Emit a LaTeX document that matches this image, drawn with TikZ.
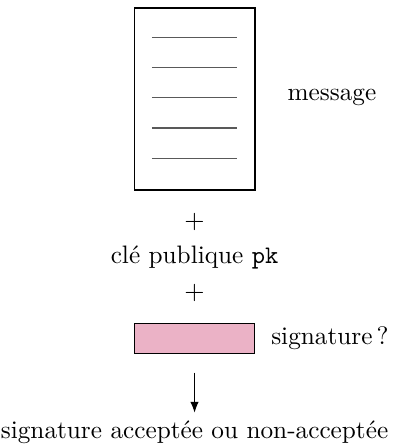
\documentclass[tikz,border=0pt]{standalone}
\usepackage{xcolor}
\usepackage{tikz}
\usetikzlibrary{positioning, arrows.meta}

\definecolor{sigpink}{RGB}{235,178,198}

\begin{document}
\begin{tikzpicture}[every node/.style={font=\fontsize{10.6}{13}\selectfont}]
    \useasboundingbox (0, 0) rectangle (5.79, 6.55);

    % the message sheet with its text lines
    \node[draw, semithick, minimum width=1.78cm, minimum height=2.68cm, inner sep=0pt] (doc) at (2.87, 5.09) {};
    \foreach \y in {6.0, 5.55, 5.11, 4.66, 4.21} {
        \draw[semithick, black!65] (2.24, \y) -- (3.50, \y);
    }
    \node[right] (msglabel) at (4.12, 5.11) {message};

    \node (plusa) at (2.87, 3.28) {$+$};
    \node (pk) at (2.87, 2.75) {clé publique \texttt{pk}};
    \node (plusb) at (2.87, 2.23) {$+$};

    % signature to be checked
    \node[draw, fill=sigpink, minimum width=1.78cm, minimum height=0.44cm, inner sep=0pt] (sig) at (2.87, 1.56) {};
    \node[right, inner sep=1pt] (siglabel) at (3.96, 1.56) {signature\,?};

    \node (result) at (2.87, 0.17) {signature acceptée ou non-acceptée};
    \draw[-{Latex[length=4.5pt, width=3.5pt]}, shorten <=0.28cm] (sig.south) -- (result.north);
\end{tikzpicture}
\end{document}
